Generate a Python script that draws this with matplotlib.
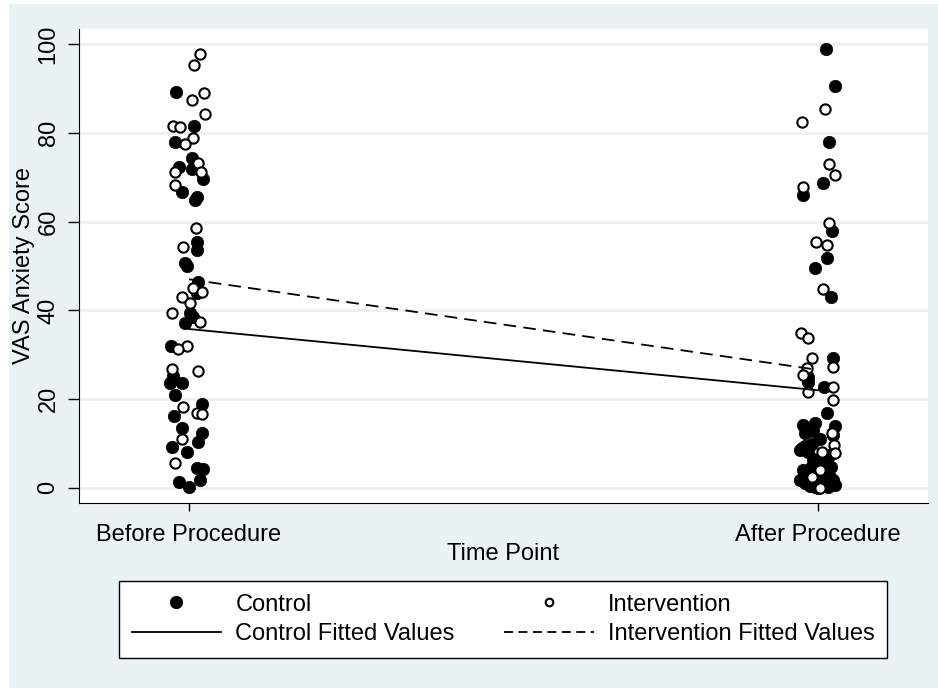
import matplotlib
matplotlib.use('Agg')
import matplotlib.pyplot as plt
from matplotlib.patches import Rectangle
from matplotlib.lines import Line2D

plt.rcParams['font.family'] = ['Liberation Sans', 'DejaVu Sans']

# data (x = time point 0/1 plus jitter, y = VAS score)
time_labels = ['Before Procedure', 'After Procedure']

before_ctrl_y = [89.2, 81.5, 78.0, 74.3, 72.3, 71.8, 69.6, 66.7, 64.9, 65.5, 55.4, 53.5,
                 50.7, 50.0, 46.4, 43.9, 39.4, 38.5, 37.2, 32.0, 25.2, 23.6, 23.6, 21.0,
                 18.9, 16.2, 13.5, 12.4, 9.2, 8.1, 10.4, 4.5, 4.3, 1.4, 0.2, 1.8]
before_ctrl_j = [-0.021, 0.008, -0.022, 0.005, -0.016, 0.005, 0.022, -0.011, 0.010, 0.013, 0.013, 0.013,
                 -0.006, -0.003, 0.014, 0.013, 0.002, 0.006, -0.006, -0.029, -0.025, -0.030, -0.011, -0.022,
                 0.021, -0.024, -0.011, 0.021, -0.027, -0.003, 0.014, 0.013, 0.022, -0.016, 0.000, 0.017]

before_int_y = [97.7, 95.3, 89.0, 87.4, 84.2, 81.5, 81.3, 78.8, 77.5, 73.2, 71.2, 71.2, 68.2,
                58.6, 54.3, 45.0, 44.1, 43.0, 41.6, 39.4, 37.4, 32.0, 31.3, 26.8, 26.4,
                18.2, 16.9, 16.7, 11.0, 5.6]
before_int_j = [0.017, 0.008, 0.024, 0.005, 0.025, -0.025, -0.014, 0.006, -0.006, 0.014, -0.022, 0.019, -0.022,
                0.011, -0.010, 0.006, 0.021, -0.011, 0.002, -0.027, 0.017, -0.003, -0.017, -0.027, 0.014,
                -0.010, 0.013, 0.021, -0.011, -0.022]

after_ctrl_y = [98.9, 90.5, 77.9, 68.7, 66.0, 57.9, 51.8, 49.5, 43.0, 29.3, 25.0, 23.9, 22.7,
                16.9, 14.6, 14.2, 14.0, 11.9, 12.4, 8.6, 8.1, 6.3, 5.6, 4.1, 3.6, 1.8, 1.8,
                1.8, 1.1, 0.0, 0.2, 0.7, 1.0, 10.0, 7.0, 3.0, 2.5, 13.0, 9.5, 5.0, 0.5,
                11.0, 6.5, 3.2, 1.5, 9.0, 4.8, 0.3, 2.0, 7.5, 12.8]
after_ctrl_j = [0.013, 0.027, 0.017, 0.008, -0.024, 0.022, 0.014, -0.005, 0.021, 0.024, -0.016, -0.016, 0.010,
                0.014, -0.005, -0.024, 0.027, 0.024, -0.021, -0.029, -0.016, -0.002, 0.014, -0.024, -0.005, -0.029, 0.006,
                0.024, -0.021, 0.000, 0.016, 0.027, -0.010, -0.010, 0.008, -0.016, 0.019, -0.013, -0.021, -0.010, -0.013,
                0.004, -0.008, 0.010, 0.012, -0.026, 0.021, -0.004, -0.018, 0.019, -0.008]

after_int_y = [85.4, 82.4, 73.0, 70.5, 67.8, 59.7, 55.4, 54.7, 44.8, 34.9, 33.8, 29.3, 27.3,
               27.0, 25.5, 21.6, 22.7, 19.8, 12.4, 9.7, 7.9, 8.1, 2.5, 0.0, 4.0]
after_int_j = [0.011, -0.025, 0.017, 0.027, -0.024, 0.017, -0.003, 0.014, 0.008, -0.027, -0.016, -0.010, 0.024,
               -0.017, -0.024, -0.016, 0.024, 0.024, 0.022, 0.025, 0.027, 0.006, -0.010, 0.003, 0.003]

fit_x = [0, 1]
ctrl_fit = [35.8, 22.0]
int_fit = [47.0, 26.6]

# plot
fig = plt.figure(figsize=(9.38, 6.88), dpi=100)
fig.patch.set_facecolor('white')
fig.patches.append(Rectangle((9 / 938, 0), 1 - 9 / 938, 1 - 4 / 688, transform=fig.transFigure,
                             facecolor='#eaf2f3', edgecolor='none', zorder=-10))

ax = fig.add_axes([79 / 938, 1 - 503 / 688, (928 - 79) / 938, (503 - 29) / 688])
ax.set_facecolor('white')

ax.scatter([0 + j for j in before_ctrl_j], before_ctrl_y, s=80, c='black', edgecolors='black', linewidths=0.5, zorder=3)
ax.scatter([1 + j for j in after_ctrl_j], after_ctrl_y, s=80, c='black', edgecolors='black', linewidths=0.5, zorder=3)
ax.scatter([0 + j for j in before_int_j], before_int_y, s=55, facecolors='white', edgecolors='black', linewidths=1.5, zorder=3)
ax.scatter([1 + j for j in after_int_j], after_int_y, s=55, facecolors='white', edgecolors='black', linewidths=1.5, zorder=3)

ax.plot(fit_x, ctrl_fit, color='black', lw=1.3, zorder=4)
ax.plot(fit_x, int_fit, color='black', lw=1.3, ls=(0, (7, 4)), zorder=4)

ax.set_xlim(-0.175, 1.175)
ax.set_ylim(-3.4, 103.4)
ax.set_xticks([0, 1])
ax.set_xticklabels(time_labels)
ax.set_yticks([0, 20, 40, 60, 80, 100])
ax.set_yticklabels(['0', '20', '40', '60', '80', '100'], rotation=90, va='center')
ax.grid(axis='y', color='#eaf2f3', lw=2)
ax.set_axisbelow(True)
for s in ['top', 'right']:
    ax.spines[s].set_visible(False)
ax.tick_params(axis='y', length=8, width=1, pad=6, labelsize=17)
ax.tick_params(axis='x', length=6, width=1, pad=9, labelsize=17)
ax.set_xlabel('Time Point', fontsize=17, labelpad=-2)
ax.set_ylabel('VAS Anxiety Score', fontsize=17, labelpad=2)

handles = [
    Line2D([], [], ls='none', marker='o', color='black', markersize=8.5),
    Line2D([], [], color='black', lw=1.3),
    Line2D([], [], ls='none', marker='o', markerfacecolor='white', markeredgecolor='black', markeredgewidth=1.5, markersize=5.5),
    Line2D([], [], color='black', lw=1.3, ls=(0, (5, 3))),
]
labels = ['Control', 'Control Fitted Values', 'Intervention', 'Intervention Fitted Values']
leg = fig.legend(handles, labels, ncol=2, loc='center', mode='expand',
                 bbox_to_anchor=(119 / 938, 1 - 658 / 688, 768 / 938, 77 / 688), borderaxespad=0,
                 fontsize=17, handlelength=3.8, handletextpad=0.6, labelspacing=0.33,
                 borderpad=0.53, fancybox=False, frameon=True, framealpha=1)
leg.get_frame().set_edgecolor('black')
leg.get_frame().set_facecolor('white')
leg.get_frame().set_linewidth(1)

fig.savefig('out.png', dpi=100)
